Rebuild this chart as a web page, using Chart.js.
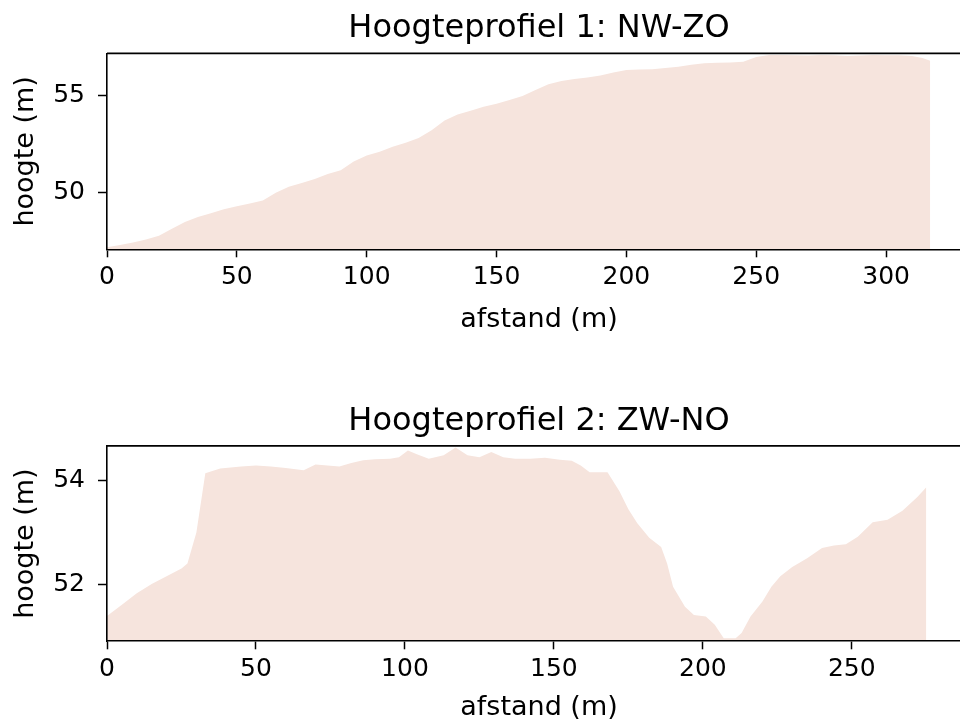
<!DOCTYPE html>
<html>
<head>
<meta charset="utf-8">
<title>Hoogteprofielen</title>
<script src="https://cdn.jsdelivr.net/npm/chart.js@4.4.0/dist/chart.umd.min.js"></script>
<style>
  html, body { margin: 0; padding: 0; background: #fff; overflow: hidden; }
  #wrap { position: relative; width: 960px; height: 724px; overflow: hidden; }
  #wrap canvas { display: block; }
</style>
</head>
<body>
<div id="wrap">
  <canvas id="profiel1" width="971" height="362"></canvas>
  <canvas id="profiel2" width="971" height="362"></canvas>
</div>
<script>
// ─── Data ──────────────────────────────────────────────

var afstand1 = [0, 5, 10, 15, 20, 25, 30, 35, 40, 45, 50, 55, 60, 65, 70, 75, 80, 85, 90, 95,
  100, 105, 110, 115, 120, 125, 130, 135, 140, 145, 150, 155, 160, 165, 170, 175, 180, 185, 190, 195,
  200, 205, 210, 215, 220, 225, 230, 235, 240, 245, 250, 255, 260, 265, 270, 275, 280, 285, 290, 295,
  300, 305, 310, 314, 317];
var hoogte1 = [47.2, 47.32, 47.45, 47.6, 47.8, 48.15, 48.5, 48.75, 48.95, 49.15, 49.3, 49.45, 49.6, 50.0, 50.3, 50.5, 50.7, 50.95, 51.15, 51.6,
  51.9, 52.1, 52.35, 52.55, 52.8, 53.2, 53.7, 54.0, 54.2, 54.4, 54.55, 54.75, 54.95, 55.25, 55.55, 55.72, 55.82, 55.9, 56.0, 56.15,
  56.28, 56.3, 56.32, 56.38, 56.45, 56.55, 56.62, 56.65, 56.67, 56.7, 56.95, 57.05, 57.05, 57.03, 57.02, 57.05, 57.03, 57.0, 57.02, 57.05,
  57.03, 57.03, 57.0, 56.9, 56.75];

var afstand2 = [0, 5, 10, 15, 20, 25, 27, 30, 33, 38, 45, 50, 55, 60, 66, 70, 74, 78, 82, 86,
  90, 95, 98, 101, 104, 108, 113, 117, 121, 125, 129, 133, 137, 142, 147, 152, 156, 159, 162, 168,
  172, 175, 178, 182, 186, 188, 190, 194, 197, 201, 204, 207, 211, 213, 216, 220, 223, 226, 230, 235,
  240, 244, 248, 252, 257, 262, 267, 272, 275];
var hoogte2 = [51.38, 51.6, 51.82, 52.0, 52.15, 52.3, 52.4, 53.0, 54.15, 54.24, 54.28, 54.3, 54.28, 54.25, 54.21, 54.32, 54.3, 54.28, 54.35, 54.4,
  54.42, 54.43, 54.46, 54.59, 54.52, 54.43, 54.5, 54.65, 54.5, 54.46, 54.56, 54.46, 54.43, 54.43, 54.45, 54.41, 54.39, 54.3, 54.17, 54.17,
  53.8, 53.45, 53.18, 52.9, 52.72, 52.4, 51.95, 51.56, 51.4, 51.37, 51.21, 50.95, 50.95, 51.05, 51.37, 51.66, 51.95, 52.15, 52.33, 52.5,
  52.7, 52.75, 52.77, 52.92, 53.2, 53.25, 53.42, 53.69, 53.88];

var xTicks1 = [0, 50, 100, 150, 200, 250, 300];
var yTicks1 = [50, 55];
var xTicks2 = [0, 50, 100, 150, 200, 250];
var yTicks2 = [52, 54];

// ─── Helpers ───────────────────────────────────────────

var FONT = 'DejaVu Sans';
var FILL = 'rgb(246, 228, 221)';

function toPoints(xs, ys) {
  return xs.map(function (x, i) { return { x: x, y: ys[i] }; });
}

function fixedTicks(values) {
  return function (scale) {
    scale.ticks = values.map(function (v) { return { value: v }; });
  };
}

// top spine, like the matplotlib frame
var topSpine = {
  id: 'topSpine',
  afterDraw: function (chart) {
    var a = chart.chartArea;
    var ctx = chart.ctx;
    ctx.save();
    ctx.strokeStyle = '#000';
    ctx.lineWidth = 1.6;
    ctx.beginPath();
    ctx.moveTo(a.left, a.top);
    ctx.lineTo(a.right, a.top);
    ctx.stroke();
    ctx.restore();
  }
};

function makeProfile(canvasId, opts) {
  var axisFont = { family: FONT, size: 25, lineHeight: 1.2 };
  var labelFont = { family: FONT, size: 27, lineHeight: 1.2 };

  return new Chart(document.getElementById(canvasId), {
    type: 'line',
    data: {
      datasets: [{
        data: toPoints(opts.xs, opts.ys),
        fill: 'start',
        backgroundColor: FILL,
        borderWidth: 0,
        pointRadius: 0,
        tension: 0,
      }],
    },
    options: {
      responsive: false,
      animation: false,
      events: [],
      layout: { padding: 0 },
      plugins: {
        legend: { display: false },
        tooltip: { enabled: false },
        title: {
          display: true,
          text: opts.title,
          fullSize: false,
          color: '#000',
          font: { family: FONT, size: 32, weight: 'normal', lineHeight: 1.2 },
          padding: opts.titlePad,
        },
      },
      scales: {
        x: {
          type: 'linear',
          min: 0,
          max: opts.xMax,
          afterBuildTicks: fixedTicks(opts.xTicks),
          afterFit: function (scale) { scale.height = opts.xAxisHeight; },
          grid: { drawOnChartArea: false, drawTicks: true, tickLength: 8, color: '#000', tickWidth: 1.5 },
          border: { display: true, color: '#000', width: 1.6, z: 1 },
          ticks: {
            color: '#000', font: axisFont, padding: 5, maxRotation: 0,
            callback: function (v) { return String(v); },
          },
          title: {
            display: true, text: 'afstand (m)', color: '#000', font: labelFont,
            padding: { top: 0, bottom: opts.xTitlePad },
          },
        },
        y: {
          type: 'linear',
          min: opts.yMin,
          max: opts.yMax,
          afterBuildTicks: fixedTicks(opts.yTicks),
          afterFit: function (scale) { scale.width = 107; },
          grid: { drawOnChartArea: false, drawTicks: true, tickLength: 9, color: '#000', tickWidth: 1.5 },
          border: { display: true, color: '#000', width: 1.6, z: 1 },
          ticks: {
            color: '#000', font: axisFont, padding: 13,
            callback: function (v) { return String(v); },
          },
          title: {
            display: true, text: 'hoogte (m)', color: '#000', font: labelFont,
            padding: { top: 10, bottom: 0 },
          },
        },
      },
    },
    plugins: [topSpine],
  });
}

// ─── Charts ────────────────────────────────────────────

makeProfile('profiel1', {
  title: 'Hoogteprofiel 1: NW-ZO',
  xs: afstand1, ys: hoogte1,
  xTicks: xTicks1, yTicks: yTicks1,
  xMax: 332.7, yMin: 47.10, yMax: 57.13,
  titlePad: { top: 9, bottom: 6 },
  xAxisHeight: 112.7, xTitlePad: 26,
});

makeProfile('profiel2', {
  title: 'Hoogteprofiel 2: ZW-NO',
  xs: afstand2, ys: hoogte2,
  xTicks: xTicks2, yTicks: yTicks2,
  xMax: 290.0, yMin: 50.89, yMax: 54.68,
  titlePad: { top: 40, bottom: 5.5 },
  xAxisHeight: 82.7, xTitlePad: 0,
});
</script>
</body>
</html>
